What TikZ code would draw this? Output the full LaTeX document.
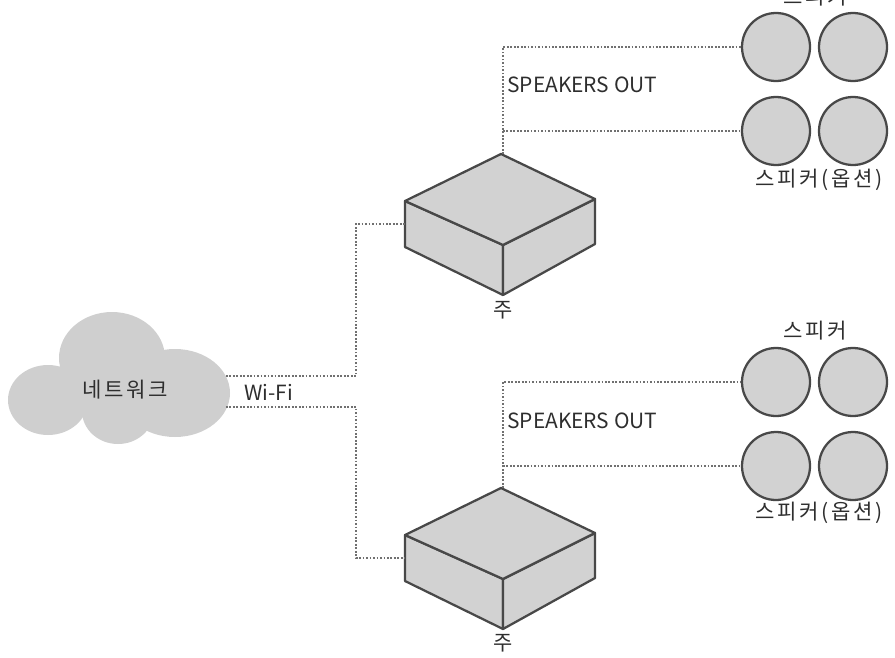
\documentclass[tikz,border=0pt]{standalone}
\usepackage{fontspec}
\setmainfont{Noto Sans CJK KR}
\newfontfamily\krspaced[LetterSpace=12]{Noto Sans CJK KR}
\definecolor{boxfill}{HTML}{D2D2D2}
\definecolor{cloudfill}{HTML}{CFCFCF}
\definecolor{inkline}{HTML}{484848}
\definecolor{dotline}{HTML}{707070}
\definecolor{txt}{HTML}{2E2E2E}
\tikzset{
  px/.style={x=0.75pt,y=-0.75pt},
  speaker/.style={circle,draw=inkline,line width=1.7pt,fill=boxfill,minimum size=51pt,inner sep=0pt},
  wire/.style={draw=dotline,line width=1.3pt,dash pattern=on 1.3pt off 1.3pt},
  face/.style={draw=inkline,line width=1.7pt,fill=boxfill,line join=round},
  lbl/.style={text=txt,font=\fontsize{15.7pt}{17pt}\selectfont,inner sep=0pt,anchor=center},
  krlbl/.style={text=txt,font=\fontsize{15.8pt}{17pt}\krspaced,inner sep=0pt,anchor=center},
}
\newcommand{\isobox}[3]{% name, x offset, y offset
  \begin{scope}[shift={(#2,#3)}]
    \coordinate (#1top) at (501,154);
    \coordinate (#1right) at (595,199);
    \coordinate (#1front) at (503,245);
    \coordinate (#1left) at (405,201);
    \coordinate (#1bottom) at (503,295);
    \coordinate (#1rb) at (595,244);
    \coordinate (#1lb) at (405,247);
    \coordinate (#1west) at (405,224);
    \coordinate (#1up) at (503,154);
    \draw[face] (#1left) -- (#1front) -- (#1bottom) -- (#1lb) -- cycle;
    \draw[face] (#1front) -- (#1right) -- (#1rb) -- (#1bottom) -- cycle;
    \draw[face] (#1top) -- (#1right) -- (#1front) -- (#1left) -- cycle;
  \end{scope}
}
\begin{document}
\begin{tikzpicture}[px]
\useasboundingbox (0,0) rectangle (895,657);
\clip (0,0) rectangle (895,657);
% cloud
\fill[cloudfill] (48,400) ellipse [x radius=40,y radius=35];
\fill[cloudfill] (112,358) ellipse [x radius=53,y radius=46];
\fill[cloudfill] (175,393) ellipse [x radius=55,y radius=44];
\fill[cloudfill] (118,411) ellipse [x radius=36,y radius=33];
\fill[cloudfill] (60,370) rectangle (170,415);
\node[krlbl] (net) at (125,390) {네트워크};
\coordinate (cloudA) at (226,376);
\coordinate (cloudB) at (226,407);
% boxes
\isobox{a}{0}{0}
\isobox{b}{0}{334}
\node[lbl] (mainA) at (503,310) {주};
\node[lbl] (mainB) at (503,643) {주};
% speakers
\node[speaker] (s1) at (776,47) {};
\node[speaker] (s2) at (853,47) {};
\node[speaker] (s3) at (776,131) {};
\node[speaker] (s4) at (853,131) {};
\node[speaker] (s5) at (776,382) {};
\node[speaker] (s6) at (853,382) {};
\node[speaker] (s7) at (776,466) {};
\node[speaker] (s8) at (853,466) {};
% labels
\node[krlbl] (t1) at (815,-3) {스피커};
\node[krlbl] (t2) at (819,180) {스피커(옵션)};
\node[krlbl] (t3) at (815,331) {스피커};
\node[krlbl] (t4) at (819,513) {스피커(옵션)};
\node[lbl,anchor=west] (so1) at (507,85) {SPEAKERS OUT};
\node[lbl,anchor=west] (so2) at (507,421) {SPEAKERS OUT};
\node[lbl,anchor=west] (wifi) at (244,392) {Wi-Fi};
% connectors
\draw[wire] (aup) |- (s1.west);
\draw[wire] (aup |- s3.west) -- (s3.west);
\draw[wire] (bup) |- (s5.west);
\draw[wire] (bup |- s7.west) -- (s7.west);
\draw[wire] (cloudA) -| (356,224) -- (awest);
\draw[wire] (cloudB) -| (356,558) -- (bwest);
\end{tikzpicture}
\end{document}
